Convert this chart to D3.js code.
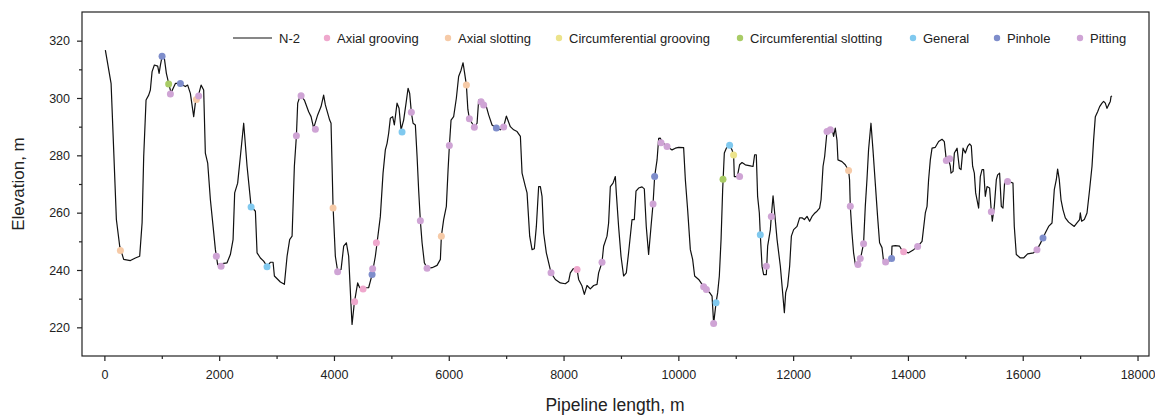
<!DOCTYPE html>
<html><head><meta charset="utf-8">
<script src="https://cdn.jsdelivr.net/npm/d3@7"></script>
<style>
html,body{margin:0;padding:0;background:#fff;}
svg{display:block;font-family:"Liberation Sans",Arial,sans-serif;}
</style></head>
<body><svg id="chart" width="1155" height="417"></svg>
<script>
// ---- Data ----
const distance = [17,47,117,162,209,267,336,453,540,615,657,685,726,772,801,831,871,929,953,976,1005,1045,1080,1120,1162,1237,1312,1411,1451,1498,1556,1585,1620,1685,1730,1759,1800,1847,1894,1934,1974,2078,2137,2195,2242,2270,2322,2369,2427,2486,2556,2631,2660,2718,2775,2834,2892,2939,2962,3066,3136,3183,3228,3270,3310,3345,3368,3415,3484,3559,3601,3646,3716,3775,3820,3850,3925,3949,3984,4024,4064,4124,4169,4216,4256,4298,4315,4355,4413,4448,4604,4664,4721,4751,4808,4855,4895,4925,4953,4982,5022,5052,5099,5134,5169,5214,5256,5291,5319,5348,5378,5418,5448,5475,5505,5535,5575,5622,5709,5796,5854,5871,5911,5958,5988,6011,6040,6085,6132,6172,6214,6249,6277,6307,6333,6359,6406,6446,6493,6521,6563,6608,6655,6695,6754,6829,6899,6956,7003,7073,7131,7190,7248,7277,7335,7364,7410,7451,7491,7526,7566,7596,7625,7653,7700,7782,7857,7944,8031,8089,8118,8170,8235,8263,8322,8362,8409,8466,8524,8583,8611,8670,8698,8757,8785,8815,8862,8902,8919,8959,9001,9046,9093,9133,9193,9233,9262,9308,9367,9407,9441,9482,9524,9559,9587,9629,9657,9686,9721,9803,9890,9948,10005,10092,10122,10162,10209,10249,10284,10354,10441,10488,10545,10587,10615,10657,10685,10714,10744,10772,10801,10836,10893,10935,10963,10975,11027,11067,11109,11167,11254,11301,11329,11358,11381,11411,11428,11458,11486,11533,11556,11603,11620,11650,11673,11720,11777,11807,11847,11870,11904,11939,11969,12009,12068,12113,12155,12195,12242,12287,12329,12369,12416,12461,12486,12521,12549,12590,12618,12677,12705,12734,12764,12781,12851,12908,12966,12983,12996,13025,13053,13083,13135,13182,13227,13257,13286,13314,13356,13391,13431,13471,13506,13548,13576,13675,13715,13722,13780,13855,13893,13925,14012,14099,14169,14246,14303,14333,14360,14390,14420,14477,14535,14594,14634,14669,14704,14738,14751,14786,14809,14856,14896,14925,14960,15000,15040,15075,15104,15127,15157,15180,15214,15232,15261,15291,15319,15348,15378,15423,15453,15470,15505,15540,15563,15597,15627,15656,15684,15736,15796,15830,15853,15888,15958,16015,16085,16189,16248,16306,16353,16393,16451,16510,16550,16585,16608,16637,16667,16702,16742,16799,16858,16898,16945,16991,17003,17026,17073,17120,17165,17207,17235,17265,17305,17340,17381,17409,17439,17468,17496,17526,17538,17555];
const elevation = [316.7,313.2,305,281.9,257.6,248.3,243.7,243.3,244.2,244.8,256.5,279.6,299.3,301,302.8,309.2,311.5,311.1,308.6,311.5,314.4,313.8,308.6,305.1,301.8,305.1,305.1,304,304.5,301.6,293.5,298.3,299.5,304.5,302.8,280.8,277.3,264.5,255.2,247.1,241.9,242.3,242.5,245.4,250.6,266.9,270.3,279.6,291.2,276.2,262.2,260.5,246,244.2,243.1,241.3,242.7,242.7,237.9,235.8,235,244.8,250.6,251.8,276.2,286.6,298.2,301,299.3,295.2,293.5,289.5,294.1,297,301,297.6,292.3,291.2,262.2,244.8,239.6,240.2,248.3,249.5,244.8,227.4,221,228.6,235.5,233.8,233.8,238.4,244.8,249.5,258.7,273.8,281.9,284.2,287.7,292.9,293.5,290.6,298.2,296.4,288.9,292.3,298.2,303.4,301.6,295,291.2,290.6,279.6,268,257.2,249.5,242.5,240.6,240.8,241.6,243.7,251.8,257.6,262.2,275,283.4,292.3,293.5,299.9,307.5,309.7,312.3,308.6,304.5,296,292.8,291.2,289.8,291.2,299.3,298.7,297.6,297,294.1,290.6,289.5,288.9,289.9,293.7,290,288.9,288.3,286.6,273.8,269.1,266.9,251.8,247.1,247.4,255.2,269.1,269.1,265.7,252.9,246,239,236.7,235.5,235.2,236.1,239,240.5,240.2,236.7,234.4,231.5,234.6,233.4,234.6,235,239,242.7,248.3,251.8,256.4,269.1,270.3,272.6,266.9,255.2,244.8,237.9,239,246,257.6,257.6,267.5,268.6,269,268.3,255.2,245.4,255.2,263,272.6,278.4,285.9,286,284.5,283.1,281.9,282.5,282.8,282.7,271.5,261,247.1,243.7,237.9,236.7,234.2,233.2,232.1,230.9,221.3,228.6,232.1,237.9,250.6,268,280.8,282.5,283.5,281.9,280.1,272.6,272.6,276.7,277.5,276.7,276.3,276.1,280.2,280.2,265.7,259.9,252.3,241.3,238.4,238.4,248.3,254.1,258.7,265.9,261,250.6,241.3,234.4,225.1,232.1,234.4,241.3,251.8,254.1,255.2,258.2,258.2,257.6,258.7,257,258.7,259.7,260.5,261.6,264.5,276.2,279.6,288.3,289.5,289.5,286.6,289.5,285.2,278.4,277.8,276.7,274.7,271.5,262.2,252.9,246,242,241.5,244.8,249.2,262.2,271.5,281.9,291.2,281.9,270.3,258.7,249.5,247.8,243,243.2,244,248.3,248.5,248.3,247,246.4,246,247.1,248.2,250,259.9,262.2,271.5,278.4,282.5,282.8,284.8,285.6,284.8,278.2,279,276.2,273.8,274.4,280.8,282.5,275.5,275,282.5,280.8,283.1,284,283.3,276.2,273.8,266.9,263.4,261.6,272.6,275,275,265.7,269.1,268.6,260.3,257,262.2,271.5,273.2,273.8,262.2,261.6,270.3,270.9,270.6,270.3,255.2,245.4,244.2,244.2,245.6,246,247.1,249.2,251.2,252.9,255.2,256.4,268,271.5,275.2,271.5,264.5,261,258.2,256.7,255.8,255.2,256.4,257.6,259.9,257,257.6,259.9,268,276.2,285.4,293.5,295.2,297,298.2,298.8,298.2,296.4,297.6,298.8,300.5,300.7];

// Defect locations [distance m, elevation m]
const axialGrooving = [[4360,228.9],[4507,233.4],[4739,249.5],[8235,240.2],[13925,246.4]];
const axialSlotting = [[279,246.8],[1603,299.5],[3984,261.6],[5871,251.8],[6307,304.5],[12966,274.7]];
const circumferentialGrooving = [[10963,280.1]];
const circumferentialSlotting = [[1120,304.9],[10778,271.7]];
const general = [[2556,262],[2834,241.1],[5186,288.1],[10657,228.6],[10893,283.5],[11428,252.3]];
const pinhole = [[1005,314.6],[1324,305.1],[4664,238.4],[6829,289.5],[9587,272.6],[13715,244],[16353,251.2]];
const pitting = [[1150,301.4],[1643,300.7],[1951,244.8],[2033,241.3],[3345,286.8],[3427,300.8],[3676,289.1],[4064,239.4],[4674,240.4],[5348,295],[5505,257.2],[5622,240.6],[6010,283.4],[6359,292.8],[6446,289.8],[6563,298.7],[6608,297.6],[6956,289.9],[7782,239],[8670,242.7],[9559,263],[9698,284.4],[9803,283.1],[10441,234.2],[10488,233.2],[10615,221.3],[11067,272.6],[11533,241.3],[11620,258.7],[12590,288.3],[12648,288.9],[12996,262.2],[13129,241.9],[13169,244],[13227,249.2],[13611,242.8],[14169,248.2],[14669,278.2],[14726,278.8],[15453,260.3],[15736,270.9],[16248,247.1]];

const seriesNames = ["Axial grooving","Axial slotting","Circumferential grooving","Circumferential slotting","General","Pinhole","Pitting"];
const seriesData = [axialGrooving, axialSlotting, circumferentialGrooving, circumferentialSlotting, general, pinhole, pitting];
const lineName = "N-2";
const xTicks = [0,2000,4000,6000,8000,10000,12000,14000,16000,18000];
const xMinorTicks = [1000,3000,5000,7000,9000,11000,13000,15000,17000];
const yTicks = [220,240,260,280,300,320];
const yMinorTicks = [230,250,270,290,310];
const xTitle = "Pipeline length, m";
const yTitle = "Elevation, m";

// ---- Styling ----
const colors = ["#EFA8CD","#F6CAA7","#ECE38B","#A9CC66","#80C9EF","#7E8DCB","#CFA4D5"];
const W = 1155, H = 417;
const m = {left: 82, right: 6, top: 12, bottom: 61};
const svg = d3.select("#chart");

const x = d3.scaleLinear().domain([-390, 18200]).range([m.left, W - m.right]);
const y = d3.scaleLinear().domain([210, 330]).range([H - m.bottom, m.top]);

// frame
svg.append("rect").attr("x", m.left).attr("y", m.top)
  .attr("width", W - m.left - m.right).attr("height", H - m.top - m.bottom)
  .attr("fill", "none").attr("stroke", "#222").attr("stroke-width", 1.2);

// x axis
svg.append("g").attr("transform", `translate(0,${H - m.bottom})`)
  .call(d3.axisBottom(x).tickValues(xTicks).tickFormat(d3.format("d")).tickSize(5).tickPadding(9));
svg.append("g").attr("transform", `translate(0,${H - m.bottom})`)
  .call(d3.axisBottom(x).tickValues(xMinorTicks).tickFormat("").tickSize(3));
// y axis
svg.append("g").attr("transform", `translate(${m.left},0)`)
  .call(d3.axisLeft(y).tickValues(yTicks).tickSize(5).tickPadding(7));
svg.append("g").attr("transform", `translate(${m.left},0)`)
  .call(d3.axisLeft(y).tickValues(yMinorTicks).tickFormat("").tickSize(3));
svg.selectAll(".domain").remove();
svg.selectAll(".tick line").attr("stroke", "#222").attr("stroke-width", 1.2);
svg.selectAll(".tick text").attr("font-size", 12.5).attr("fill", "#222")
  .attr("font-family", "Liberation Sans, Arial, sans-serif");

// axis titles
svg.append("text").attr("x", 615).attr("y", 411)
  .attr("text-anchor", "middle").attr("font-size", 17.5).attr("fill", "#222").text(xTitle);
svg.append("text").attr("transform", `translate(24,${(m.top + H - m.bottom) / 2}) rotate(-90)`)
  .attr("text-anchor", "middle").attr("font-size", 17).attr("fill", "#222").text(yTitle);

// profile line
const profile = distance.map((d, i) => [d, elevation[i]]);
svg.append("path").datum(profile)
  .attr("fill", "none").attr("stroke", "#111").attr("stroke-width", 1.2).attr("stroke-linejoin", "round")
  .attr("d", d3.line().x(d => x(d[0])).y(d => y(d[1])));

// defect dots
seriesData.forEach((arr, i) => {
  svg.append("g").selectAll("circle").data(arr).join("circle")
    .attr("cx", d => x(d[0])).attr("cy", d => y(d[1])).attr("r", 3.5)
    .attr("fill", colors[i]);
});

// legend
const ly = 38;
const lg = svg.append("g").attr("font-size", 13).attr("fill", "#222");
lg.append("line").attr("x1", 233).attr("x2", 272).attr("y1", ly).attr("y2", ly)
  .attr("stroke", "#111").attr("stroke-width", 1.2);
lg.append("text").attr("x", 279).attr("y", ly + 4.5).text(lineName);
const dotX = [327, 448, 559, 740, 913, 997, 1080];
seriesNames.forEach((n, i) => {
  lg.append("circle").attr("cx", dotX[i]).attr("cy", ly).attr("r", 3.2).attr("fill", colors[i]);
  lg.append("text").attr("x", dotX[i] + 10).attr("y", ly + 4.5).text(n);
});
</script></body></html>
